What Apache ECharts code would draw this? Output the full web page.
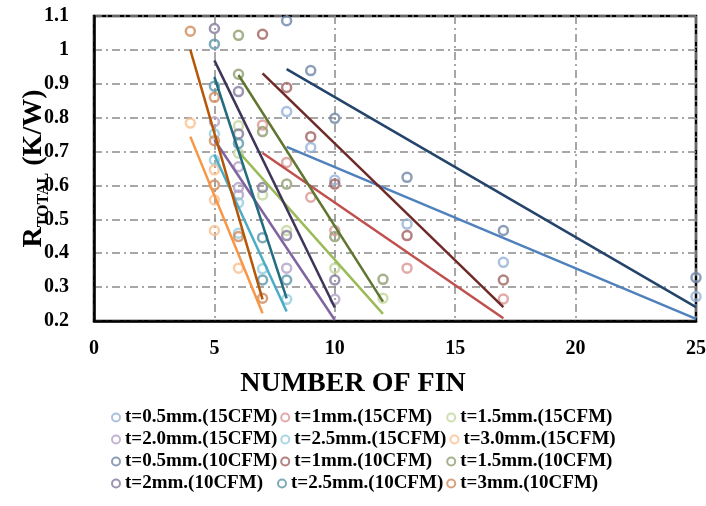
<!DOCTYPE html>
<html><head><meta charset="utf-8">
<script src="https://cdn.jsdelivr.net/npm/echarts@6/dist/echarts.min.js"></script>
<style>html,body{margin:0;padding:0;background:#fff}#c{width:706px;height:506px}</style>
</head><body><div id="c"></div>
<script>
// ---- data ----
const seriesNames = [
  't=0.5mm.(15CFM)', 't=1mm.(15CFM)', 't=1.5mm.(15CFM)',
  't=2.0mm.(15CFM)', 't=2.5mm.(15CFM)', 't=3.0mm.(15CFM)',
  't=0.5mm.(10CFM)', 't=1mm.(10CFM)', 't=1.5mm.(10CFM)',
  't=2mm.(10CFM)', 't=2.5mm.(10CFM)', 't=3mm.(10CFM)'
];
// [number of fins, R_total]
const p05_15 = [[8,0.818],[9,0.712],[10,0.616],[13,0.486],[17,0.373],[25,0.272]];
const p10_15 = [[7,0.778],[8,0.668],[9,0.565],[10,0.467],[13,0.356],[17,0.265]];
const p15_15 = [[6,0.776],[6,0.695],[7,0.572],[8,0.467],[10,0.356],[12,0.267]];
const p20_15 = [[5,0.788],[6,0.655],[6,0.594],[6,0.572],[8,0.356],[10,0.264]];
const p25_15 = [[5,0.752],[5,0.675],[6,0.549],[6,0.459],[7,0.354],[8,0.264]];
const p30_15 = [[4,0.784],[5,0.646],[5,0.557],[5,0.467],[6,0.356]];
const p05_10 = [[8,1.086],[9,0.939],[10,0.798],[13,0.624],[17,0.467],[25,0.328]];
const p10_10 = [[7,1.046],[8,0.889],[9,0.744],[10,0.604],[13,0.452],[17,0.321]];
const p15_10 = [[6,1.043],[6,0.928],[7,0.759],[8,0.604],[10,0.449],[12,0.323]];
const p20_10 = [[5,1.063],[6,0.877],[6,0.752],[7,0.594],[8,0.452],[10,0.321]];
const p25_10 = [[5,1.017],[5,0.893],[6,0.724],[7,0.446],[7,0.321],[8,0.321]];
const p30_10 = [[4,1.055],[5,0.860],[5,0.732],[5,0.601],[6,0.449],[7,0.267]];
// linear trend line end points [x, y]
const t05_15 = [[8,0.714],[25,0.206]];
const t10_15 = [[7,0.696],[17,0.208]];
const t15_15 = [[6,0.700],[12,0.221]];
const t20_15 = [[5,0.735],[10,0.203]];
const t25_15 = [[5,0.690],[8,0.228]];
const t30_15 = [[4,0.744],[7,0.223]];
const t05_10 = [[8,0.943],[25,0.241]];
const t10_10 = [[7,0.931],[17,0.241]];
const t15_10 = [[6,0.926],[12,0.257]];
const t20_10 = [[5,0.969],[10,0.240]];
const t25_10 = [[5,0.920],[8,0.267]];
const t30_10 = [[4,1.000],[7,0.264]];
const xTicks = [0,5,10,15,20,25];
const yTicks = [0.2,0.3,0.4,0.5,0.6,0.7,0.8,0.9,1,1.1];

const pointSets = [p05_15,p10_15,p15_15,p20_15,p25_15,p30_15,p05_10,p10_10,p15_10,p20_10,p25_10,p30_10];
const trendSets = [t05_15,t10_15,t15_15,t20_15,t25_15,t30_15,t05_10,t10_10,t15_10,t20_10,t25_10,t30_10];

// ---- styles ----
const lineColors = ['#4F81BD','#C0504D','#9BBB59','#8064A2','#4BACC6','#F79646',
                    '#24446B','#6E2A27','#5F7530','#3F3459','#236B7E','#B65708'];
const markColors = ['#95B3D7','#D99694','#C3D69B','#B3A2C7','#93CDDD','#FAC090',
                    '#6F86A6','#A0625F','#8F9E70','#857A9C','#5E96A8','#D08B5C'];
const FONT = "'Liberation Serif','Times New Roman',serif";

const series = [];
seriesNames.forEach((n, i) => {
  series.push({
    name: n, type: 'scatter', data: pointSets[i], symbol: 'circle', symbolSize: 9,
    itemStyle: { color: 'rgba(255,255,255,0)', borderColor: markColors[i], borderWidth: 2.5 },
    z: 2, emphasis: { disabled: true }
  });
});
seriesNames.forEach((n, i) => {
  series.push({
    name: n + ' trend', type: 'line', data: trendSets[i], symbol: 'none', showSymbol: false,
    lineStyle: { color: lineColors[i], width: 2.5 }, z: 3, silent: true
  });
});

const chart = echarts.init(document.getElementById('c'), null, { renderer: 'canvas' });
chart.setOption({
  animation: false,
  backgroundColor: '#fff',
  title: {
    text: 'NUMBER OF FIN', left: 'center', top: 365,
    textStyle: { fontFamily: FONT, fontWeight: 'bold', fontSize: 28, color: '#000' }
  },
  grid: { left: 94, right: 10, top: 16, bottom: 185, outerBoundsMode: 'none', containLabel: false,
    show: true, borderColor: '#000', borderWidth: 2.5, backgroundColor: 'transparent' },
  legend: {
    data: seriesNames, left: 106, top: 403, width: 520,
    icon: 'circle', itemWidth: 8, itemHeight: 8, itemGap: 3,
    textStyle: { fontFamily: FONT, fontWeight: 'bold', fontSize: 19, color: '#000', width: 149, lineHeight: 19 }
  },
  xAxis: {
    type: 'value', min: xTicks[0], max: xTicks[xTicks.length - 1], interval: 5,
    axisLine: { show: true, lineStyle: { color: '#000', width: 2.5 } },
    axisTick: { show: false },
    axisLabel: { fontFamily: FONT, fontWeight: 'bold', fontSize: 20, color: '#000', margin: 18 },
    splitLine: { show: true, lineStyle: { color: '#8a8a8a', width: 1.5, type: [8, 4, 2, 4] } }
  },
  yAxis: {
    type: 'value', min: yTicks[0], max: yTicks[yTicks.length - 1], interval: 0.1,
    name: '{r|R}{s|TOTAL}{n| (K/W)}', nameLocation: 'middle', nameRotate: 90, nameGap: 46,
    nameMoveOverlap: false,
    nameTextStyle: {
      rich: {
        r: { fontFamily: FONT, fontWeight: 'bold', fontSize: 28, color: '#000', lineHeight: 30, verticalAlign: 'bottom' },
        s: { fontFamily: FONT, fontWeight: 'bold', fontSize: 16, color: '#000', lineHeight: 30, verticalAlign: 'bottom', padding: [0, 0, -4, 0] },
        n: { fontFamily: FONT, fontWeight: 'bold', fontSize: 28, color: '#000', lineHeight: 30, verticalAlign: 'bottom' }
      }
    },
    axisLine: { show: true, lineStyle: { color: '#000', width: 2.5 } },
    axisTick: { show: false },
    axisLabel: { fontFamily: FONT, fontWeight: 'bold', fontSize: 20, color: '#000', margin: 25,
      formatter: v => String(Math.round(v * 10) / 10) },
    splitLine: { show: true, lineStyle: { color: '#8a8a8a', width: 1.5, type: [8, 4, 2, 4] } }
  },
  series: series
});
</script></body></html>
